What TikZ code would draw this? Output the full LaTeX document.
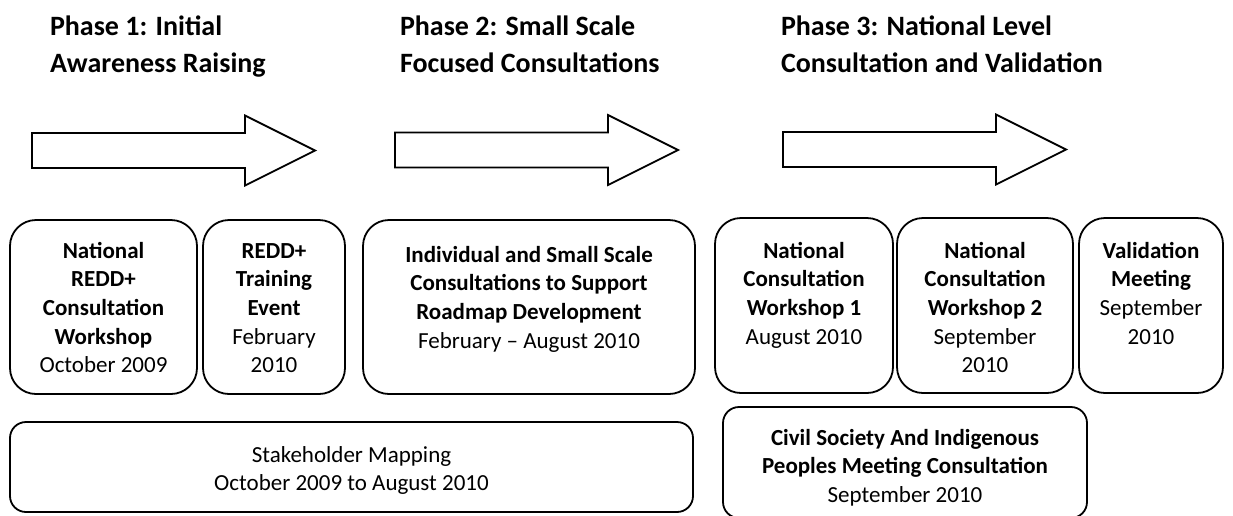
\documentclass[tikz,border=0pt]{standalone}
\usepackage{fontspec}
\setmainfont{Carlito}
\begin{document}
\begin{tikzpicture}[x=1pt,y=-1pt,
  every node/.style={inner sep=0pt, outer sep=0pt},
  arrowline/.style={draw=black, line width=1.8pt, line join=miter, fill=white},
  evbox/.style={draw=black, line width=1.8pt, rounded corners=26pt, rectangle},
  widebox/.style={draw=black, line width=1.8pt, rounded corners=16pt, rectangle},
  evtext/.style={align=center, anchor=north, font=\fontsize{23}{28.7}\selectfont},
  phasetitle/.style={align=left, anchor=north west, font=\fontsize{28}{37}\selectfont\bfseries},
  phasearrow/.pic={\draw[arrowline] (0,-17.5) -- (213,-17.5) -- (213,-35) -- (283,0) -- (213,35) -- (213,17.5) -- (0,17.5) -- cycle;}
]
\useasboundingbox (0,0) rectangle (1233,515);
\clip (0,0) rectangle (1233,515);

% phase titles
\node[phasetitle] (t1) at (50,14) {\rule{0pt}{21pt}Phase 1: Initial\\Awareness Raising};
\node[phasetitle] (t2) at (400,14) {\rule{0pt}{21pt}Phase 2: Small Scale\\Focused Consultations};
\node[phasetitle] (t3) at (781,14) {\rule{0pt}{21pt}Phase 3: National Level\\Consultation and Validation};

% phase arrows
\pic at (32,150.5) {phasearrow};
\pic at (395,150) {phasearrow};
\pic at (783,149.5) {phasearrow};

% event boxes
\node[evbox, minimum width=187pt, minimum height=174pt] (bA) at (103.5,307) {};
\node[evbox, minimum width=142pt, minimum height=174pt] (bB) at (274,307) {};
\node[evbox, minimum width=332pt, minimum height=174pt] (bC) at (529,307) {};
\node[evbox, minimum width=178pt, minimum height=175pt] (bD) at (804,305.5) {};
\node[evbox, minimum width=176pt, minimum height=175pt] (bE) at (985,305.5) {};
\node[evbox, minimum width=144pt, minimum height=175pt] (bF) at (1151,305.5) {};
\node[widebox, minimum width=683pt, minimum height=90pt] (bG) at (351.5,467) {};
\node[widebox, minimum width=364pt, minimum height=111pt] (bH) at (905,462.5) {};

% texts
\node[evtext] (xA) at ([yshift=-21pt]bA.north) {\rule{0pt}{17pt}\textbf{National}\\\textbf{REDD+}\\\textbf{Consultation}\\\textbf{Workshop}\\October 2009};
\node[evtext] (xB) at ([yshift=-21pt]bB.north) {\rule{0pt}{17pt}\textbf{REDD+}\\\textbf{Training}\\\textbf{Event}\\February\\2010};
\node[evtext] (xC) at ([yshift=-25pt]bC.north) {\rule{0pt}{17pt}\textbf{Individual and Small Scale}\\\textbf{Consultations to Support}\\\textbf{Roadmap Development}\\February -- August 2010};
\node[evtext] (xD) at ([yshift=-23pt]bD.north) {\rule{0pt}{17pt}\textbf{National}\\\textbf{Consultation}\\\textbf{Workshop 1}\\August 2010};
\node[evtext] (xE) at ([yshift=-23pt]bE.north) {\rule{0pt}{17pt}\textbf{National}\\\textbf{Consultation}\\\textbf{Workshop 2}\\September\\2010};
\node[evtext] (xF) at ([yshift=-23pt]bF.north) {\rule{0pt}{17pt}\textbf{Validation}\\\textbf{Meeting}\\September\\2010};
\node[evtext] (xG) at ([yshift=-23pt]bG.north) {\rule{0pt}{17pt}Stakeholder Mapping\\October 2009 to August 2010};
\node[evtext] (xH) at ([yshift=-21pt]bH.north) {\rule{0pt}{17pt}\textbf{Civil Society And Indigenous}\\\textbf{Peoples Meeting Consultation}\\September 2010};
\end{tikzpicture}
\end{document}
